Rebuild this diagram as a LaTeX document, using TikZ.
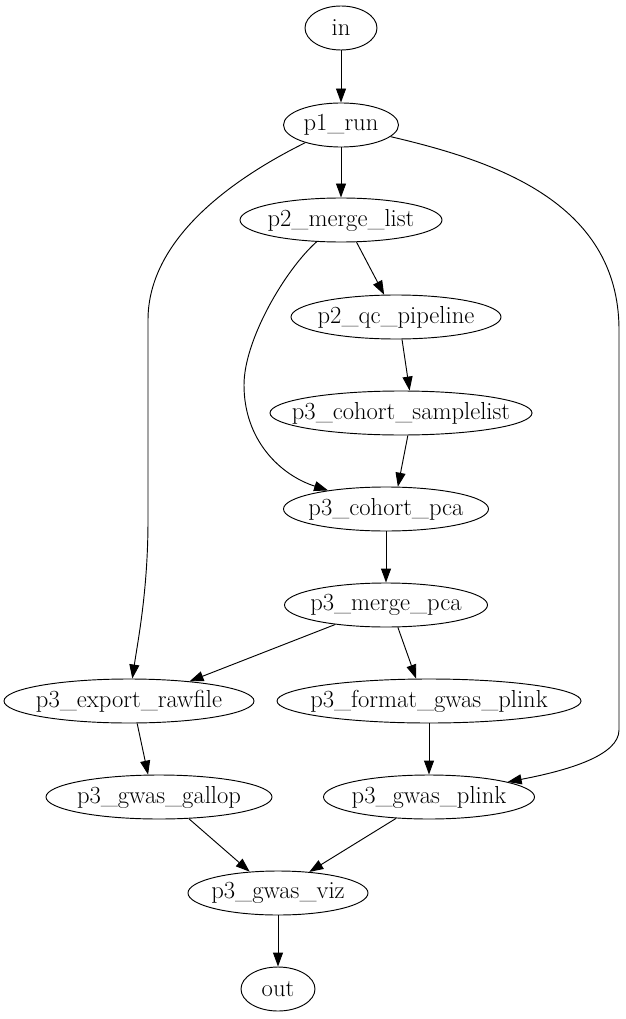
\documentclass[tikz,border=0pt]{standalone}
\usetikzlibrary{shapes.geometric, arrows.meta}
\newcommand{\tsk}[1]{\makebox[0pt]{#1}}
\begin{document}
\begin{tikzpicture}[x=0.03cm, y=-0.03cm,
	job/.style={draw, ellipse, line width=0.8pt, inner sep=0pt, minimum height=1.32cm, font=\fontsize{21}{25}\selectfont},
	edge/.style={-{Triangle[length=0.42cm, width=0.3cm]}, line width=0.8pt}]
			\useasboundingbox (0,0) rectangle (626,1019);
			
			\node[job, minimum width=2.16cm] (in) at (341,28) {\tsk{in}};
			\node[job, minimum width=3.45cm] (p1run) at (341,125) {\tsk{p1\_run}};
			\node[job, minimum width=6.06cm] (p2mergelist) at (341,220) {\tsk{p2\_merge\_list}};
			\node[job, minimum width=6.3cm] (p2qcpipeline) at (396,317) {\tsk{p2\_qc\_pipeline}};
			\node[job, minimum width=7.86cm] (p3cohortsamplelist) at (401,413) {\tsk{p3\_cohort\_samplelist}};
			\node[job, minimum width=6.15cm] (p3cohortpca) at (386,509) {\tsk{p3\_cohort\_pca}};
			\node[job, minimum width=6.09cm] (p3mergepca) at (386,605) {\tsk{p3\_merge\_pca}};
			\node[job, minimum width=7.5cm] (p3exportrawfile) at (129,701) {\tsk{p3\_export\_rawfile}};
			\node[job, minimum width=9.12cm] (p3formatgwasplink) at (429,701) {\tsk{p3\_format\_gwas\_plink}};
			\node[job, minimum width=6.78cm] (p3gwasgallop) at (159,797) {\tsk{p3\_gwas\_gallop}};
			\node[job, minimum width=6.33cm] (p3gwasplink) at (429,797) {\tsk{p3\_gwas\_plink}};
			\node[job, minimum width=5.4cm] (p3gwasviz) at (278,893) {\tsk{p3\_gwas\_viz}};
			\node[job, minimum width=2.22cm] (out) at (278,989) {\tsk{out}};
			
			\draw[edge] (in)--(p1run);
			\draw[edge] (p1run)--(p2mergelist);
			\draw[edge] (p1run) .. controls (230,180) and (148,240) .. (148,320) -- (148,520) .. controls (148,590) and (138,640) .. (p3exportrawfile);
			\draw[edge] (p1run) .. controls (490,160) and (619,200) .. (619,330) -- (619,730) .. controls (619,755) and (570,770) .. (p3gwasplink);
			\draw[edge] (p2mergelist.-55)--(p2qcpipeline.118);
			\draw[edge] (p2mergelist) .. controls (285,270) and (244,340) .. (244,385) .. controls (244,440) and (280,475) .. (p3cohortpca);
			\draw[edge] (p2qcpipeline.-75)--(p3cohortsamplelist.69);
			\draw[edge] (p3cohortsamplelist.-73)--(p3cohortpca.62);
			\draw[edge] (p3cohortpca)--(p3mergepca);
			\draw[edge] (p3mergepca.-159)--(p3exportrawfile.18);
			\draw[edge] (p3mergepca.-62)--(p3formatgwasplink.120);
			\draw[edge] (p3exportrawfile.-70)--(p3gwasgallop.116);
			\draw[edge] (p3formatgwasplink)--(p3gwasplink);
			\draw[edge] (p3gwasgallop.-36)--(p3gwasviz.143);
			\draw[edge] (p3gwasplink.-147)--(p3gwasviz.34);
			\draw[edge] (p3gwasviz)--(out);
			\end{tikzpicture}
\end{document}
